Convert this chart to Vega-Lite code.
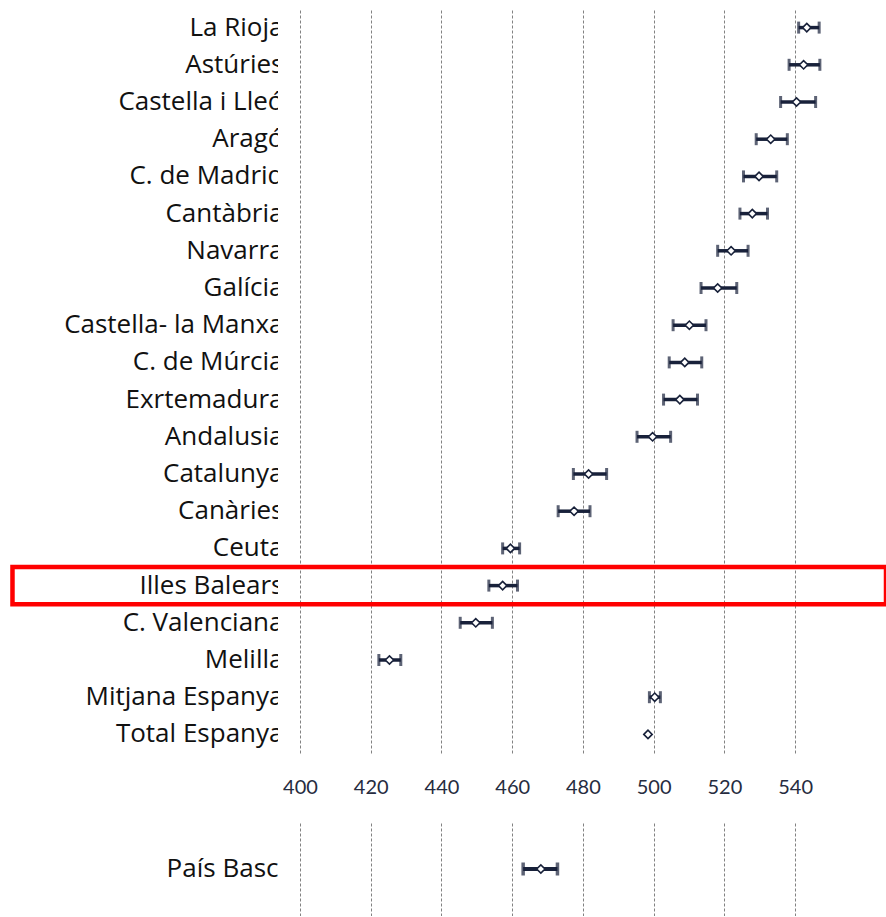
{
  "$schema": "https://vega.github.io/schema/vega-lite/v6.json",
  "padding": {"top": 9, "left": 0, "right": 0, "bottom": 0},
  "background": "white",
  "spacing": 19,
  "config": {"view": {"stroke": null}},
  "vconcat": [
    {
      "width": 586,
      "height": 744,
      "data": {"values": [
        {"region": "La Rioja", "mean": 543.3, "lo": 541.0, "hi": 546.8},
        {"region": "Astúries", "mean": 542.4, "lo": 538.3, "hi": 547.0},
        {"region": "Castella i Lleó", "mean": 540.4, "lo": 535.9, "hi": 545.8},
        {"region": "Aragó", "mean": 533.1, "lo": 529.0, "hi": 537.8},
        {"region": "C. de Madrid", "mean": 529.8, "lo": 525.4, "hi": 534.8},
        {"region": "Cantàbria", "mean": 527.9, "lo": 524.4, "hi": 532.2},
        {"region": "Navarra", "mean": 521.9, "lo": 518.1, "hi": 526.7},
        {"region": "Galícia", "mean": 518.1, "lo": 513.4, "hi": 523.5},
        {"region": "Castella- la Manxa", "mean": 510.1, "lo": 505.5, "hi": 514.8},
        {"region": "C. de Múrcia", "mean": 508.8, "lo": 504.4, "hi": 513.6},
        {"region": "Exrtemadura", "mean": 507.4, "lo": 502.8, "hi": 512.4},
        {"region": "Andalusia", "mean": 499.7, "lo": 495.3, "hi": 504.8},
        {"region": "Catalunya", "mean": 481.6, "lo": 477.3, "hi": 486.7},
        {"region": "Canàries", "mean": 477.5, "lo": 473.0, "hi": 482.0},
        {"region": "Ceuta", "mean": 459.5, "lo": 457.3, "hi": 462.1},
        {"region": "Illes Balears", "mean": 457.3, "lo": 453.4, "hi": 461.5},
        {"region": "C. Valenciana", "mean": 449.7, "lo": 445.3, "hi": 454.4},
        {"region": "Melilla", "mean": 425.3, "lo": 422.3, "hi": 428.5},
        {"region": "Mitjana Espanya", "mean": 500.3, "lo": 498.8, "hi": 501.9},
        {"region": "Total Espanya", "mean": 498.4, "lo": null, "hi": null}
      ]},
      "encoding": {
        "y": {
          "field": "region", "type": "nominal", "sort": null,
          "scale": {"paddingInner": 0, "paddingOuter": 0},
          "axis": {
            "title": null, "domain": false, "ticks": false, "grid": false,
            "labelFont": "Open Sans", "labelFontSize": 26, "labelColor": "#111111",
            "labelPadding": 17, "labelLimit": 400,
            "minExtent": 300, "maxExtent": 300
          }
        }
      },
      "layer": [
        {
          "mark": {"type": "rect", "fill": "white", "clip": false},
          "encoding": {
            "x": {"datum": 393.8, "type": "quantitative",
              "scale": {"domain": [400, 565.7], "nice": false, "zero": false},
              "axis": {
                "title": null, "values": [400, 420, 440, 460, 480, 500, 520, 540],
                "grid": true, "gridColor": "#828282", "gridDash": [3, 2], "gridWidth": 1,
                "domain": false, "ticks": false, "labelFlush": false,
                "labelFont": "Lato", "labelFontSize": 20, "labelColor": "#262c40",
                "labelPadding": 24, "minExtent": 50, "maxExtent": 50
              }
            },
            "x2": {"datum": 399.4},
            "y": {"value": 0},
            "y2": {"value": 744}
          }
        },
        {
          "mark": {"type": "rule", "color": "#18213a", "strokeWidth": 3.5},
          "encoding": {
            "x": {"field": "lo", "type": "quantitative"},
            "x2": {"field": "hi"}
          }
        },
        {
          "mark": {"type": "tick", "color": "#18213a", "orient": "vertical", "size": 12, "thickness": 3},
          "encoding": {"x": {"field": "lo", "type": "quantitative"}}
        },
        {
          "mark": {"type": "tick", "color": "#18213a", "orient": "vertical", "size": 12, "thickness": 3},
          "encoding": {"x": {"field": "hi", "type": "quantitative"}}
        },
        {
          "mark": {"type": "point", "shape": "diamond", "filled": true, "fill": "white", "stroke": "#18213a", "strokeWidth": 1.6, "size": 70, "opacity": 1},
          "encoding": {"x": {"field": "mean", "type": "quantitative"}}
        },
        {
          "transform": [{"filter": "datum.region === 'Illes Balears'"}],
          "mark": {"type": "rect", "fillOpacity": 0, "stroke": "#ff0000", "strokeWidth": 4.5, "clip": false},
          "encoding": {
            "x": {"datum": 318.7, "type": "quantitative"},
            "x2": {"datum": 565.7}
          }
        }
      ]
    },
    {
      "width": 586,
      "height": 94,
      "data": {"values": [
        {"region": "País Basc", "mean": 468.1, "lo": 463.1, "hi": 472.8}
      ]},
      "encoding": {
        "y": {
          "field": "region", "type": "nominal",
          "scale": {"paddingInner": 0, "paddingOuter": 0},
          "axis": {
            "title": null, "domain": false, "ticks": false, "grid": false,
            "labelFont": "Open Sans", "labelFontSize": 26, "labelColor": "#111111",
            "labelPadding": 22, "labelLimit": 400,
            "minExtent": 300, "maxExtent": 300
          }
        }
      },
      "layer": [
        {
          "mark": {"type": "rule", "color": "#18213a", "strokeWidth": 4},
          "encoding": {
            "x": {"field": "lo", "type": "quantitative",
              "scale": {"domain": [400, 565.7], "nice": false, "zero": false},
              "axis": {
                "title": null, "values": [400, 420, 440, 460, 480, 500, 520, 540],
                "grid": true, "gridColor": "#828282", "gridDash": [3, 2], "gridWidth": 1,
                "domain": false, "ticks": false, "labels": false,
                "minExtent": 0, "maxExtent": 0
              }
            },
            "x2": {"field": "hi"}
          }
        },
        {
          "mark": {"type": "tick", "color": "#18213a", "orient": "vertical", "size": 13, "thickness": 3.5},
          "encoding": {"x": {"field": "lo", "type": "quantitative"}}
        },
        {
          "mark": {"type": "tick", "color": "#18213a", "orient": "vertical", "size": 13, "thickness": 3.5},
          "encoding": {"x": {"field": "hi", "type": "quantitative"}}
        },
        {
          "mark": {"type": "point", "shape": "diamond", "filled": true, "fill": "white", "stroke": "#18213a", "strokeWidth": 1.6, "size": 70, "opacity": 1},
          "encoding": {"x": {"field": "mean", "type": "quantitative"}}
        }
      ]
    }
  ]
}
